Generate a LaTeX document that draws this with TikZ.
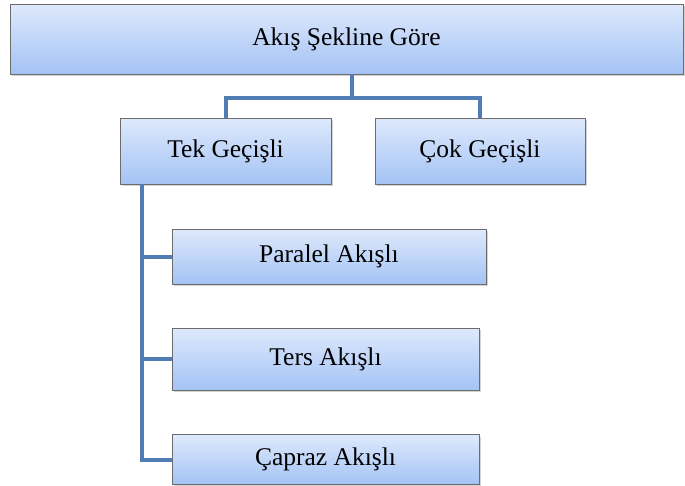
\documentclass[tikz,border=0pt]{standalone}
\usepackage{fontspec}
\setmainfont{Liberation Serif}
\usetikzlibrary{shadows}
\definecolor{linkBlue}{RGB}{79,125,180}
\definecolor{boxTop}{RGB}{222,233,252}
\definecolor{boxBottom}{RGB}{164,195,245}
\begin{document}
\begin{tikzpicture}
        [x=1pt, y=-1pt,
        box/.style={rectangle, draw=gray!85!black, line width=0.8pt, top color=boxTop, bottom color=boxBottom,
            inner sep=0pt, font=\fontsize{25.5}{29}\selectfont,
            drop shadow={shadow xshift=1.5pt, shadow yshift=-2pt, opacity=0.35}},
        link/.style={linkBlue, line width=4pt}]
        \useasboundingbox (0,0) rectangle (685,485);
        \node[box, minimum width=673pt, minimum height=70pt] (Top) at (346.5,39) {Akış Şekline Göre};
        \node[box, minimum width=211pt, minimum height=66pt] (Tek) at (225.5,151) {Tek Geçişli};
        \node[box, minimum width=210pt, minimum height=66pt] (Cok) at (480,151) {Çok Geçişli};
        \node[box, minimum width=314pt, minimum height=55pt] (Paralel) at (329,256.5) {Paralel Akışlı};
        \node[box, minimum width=307pt, minimum height=62pt] (Ters) at (325.5,359) {Ters Akışlı};
        \node[box, minimum width=307pt, minimum height=50pt] (Capraz) at (325.5,459.5) {Çapraz Akışlı};

        \coordinate (J) at (352,98);
        \coordinate (T) at (142,184);

        \begin{scope}[on background layer/.try]
        \draw[link] (Top.south -| J) -- (J);
        \draw[link] (Tek.north) |- (J) -| (Cok.north);
        \draw[link] (Tek.south -| T) -- (T |- Capraz.west) -- (Capraz.west);
        \draw[link] (T |- Paralel.west) -- (Paralel.west);
        \draw[link] (T |- Ters.west) -- (Ters.west);
        \end{scope}
    \end{tikzpicture}
\end{document}
